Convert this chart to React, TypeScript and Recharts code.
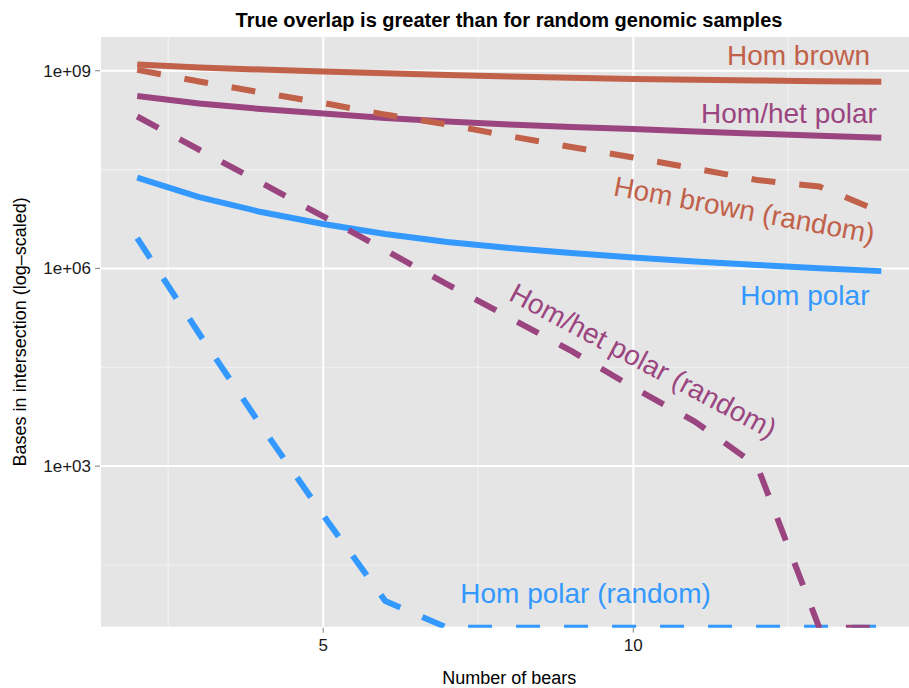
import { LineChart, Line, XAxis, YAxis, CartesianGrid, ReferenceDot } from 'recharts';

// number of bears in the subset
const bears = [2, 3, 4, 5, 6, 7, 8, 9, 10, 11, 12, 13, 14];

// bases in intersection; 0 = empty intersection (drawn at the panel floor, like ggplot's -Inf)
const homBrown = [1.24e9, 1.12e9, 1.04e9, 9.7e8, 9.15e8, 8.6e8, 8.17e8, 7.8e8, 7.5e8, 7.3e8, 7.1e8, 6.9e8, 6.8e8];
const homBrownRandom = [1.03e9, 6.86e8, 4.67e8, 3.24e8, 2.16e8, 1.53e8, 1.02e8, 6.95e7, 4.82e7, 3.28e7, 2.19e7, 1.75e7, 7.18e6];
const homHetPolar = [4.13e8, 3.18e8, 2.62e8, 2.24e8, 1.92e8, 1.69e8, 1.53e8, 1.4e8, 1.3e8, 1.2e8, 1.11e8, 1.035e8, 9.6e7];
const homHetPolarRandom = [2.02e8, 6.32e7, 1.99e7, 6.15e6, 1.89e6, 5.75e5, 1.8e5, 5.6e4, 1.56e4, 4.7e3, 1.0e3, 0, 0];
const homPolar = [2.39e7, 1.21e7, 7.17e6, 4.72e6, 3.33e6, 2.52e6, 2.04e6, 1.71e6, 1.46e6, 1.27e6, 1.13e6, 1.01e6, 9.1e5];
const homPolarRandom = [2.89e6, 1.02e5, 4.07e3, 180, 9, 0, 0, 0, 0, 0, 0, 0, 0];

const yTicks = [1e3, 1e6, 1e9];
const yMinor = [10 ** 1.5, 10 ** 4.5, 10 ** 7.5];
const xTicks = [5, 10];
const xMinor = [2.5, 7.5, 12.5];

const Y_MIN = 10 ** 0.548;
const Y_MAX = 10 ** 9.527;

const BROWN = '#C1614A';
const PURPLE = '#9B4580';
const BLUE = '#3399FF';
const FONT = '"Liberation Sans", Arial, Helvetica, sans-serif';

const atFloor = (v: number) => (v > 0 ? v : Y_MIN);

const rows = bears.map((b, i) => ({
  bears: b,
  homBrown: atFloor(homBrown[i]),
  homBrownRandom: atFloor(homBrownRandom[i]),
  homHetPolar: atFloor(homHetPolar[i]),
  homHetPolarRandom: atFloor(homHetPolarRandom[i]),
  homPolar: atFloor(homPolar[i]),
  homPolarRandom: atFloor(homPolarRandom[i]),
}));

// draw order: blue at the bottom, brown on top
const series = [
  { key: 'homPolar', color: BLUE, dashed: false },
  { key: 'homPolarRandom', color: BLUE, dashed: true },
  { key: 'homHetPolar', color: PURPLE, dashed: false },
  { key: 'homHetPolarRandom', color: PURPLE, dashed: true },
  { key: 'homBrown', color: BROWN, dashed: false },
  { key: 'homBrownRandom', color: BROWN, dashed: true },
];

// direct labels, placed in data space
const labels = [
  { text: 'Hom brown', x: 13.82, y: 10 ** 9.086, color: BROWN, anchor: 'end', angle: 0, baseline: 'auto' },
  { text: 'Hom/het polar', x: 13.93, y: 10 ** 8.214, color: PURPLE, anchor: 'end', angle: 0, baseline: 'auto' },
  { text: 'Hom polar', x: 13.81, y: 10 ** 5.445, color: BLUE, anchor: 'end', angle: 0, baseline: 'auto' },
  { text: 'Hom polar (random)', x: 9.23, y: 10 ** 0.93, color: BLUE, anchor: 'middle', angle: 0, baseline: 'auto' },
  { text: 'Hom brown (random)', x: 11.79, y: 10 ** 6.886, color: BROWN, anchor: 'middle', angle: 10.5, baseline: 'central' },
  { text: 'Hom/het polar (random)', x: 10.16, y: 10 ** 4.595, color: PURPLE, anchor: 'middle', angle: 28, baseline: 'central' },
];

const fmtExp = (v: number) => `1e+${String(Math.round(Math.log10(v))).padStart(2, '0')}`;

export default function App() {
  return (
    <div style={{ position: 'fixed', left: 0, top: 0, width: 909, height: 688, overflow: 'hidden', background: '#fff' }}>
      <svg width={909} height={36} style={{ position: 'absolute', left: 0, top: 0 }}>
        <text x={509} y={27} textAnchor="middle" fontFamily={FONT} fontWeight="bold" fontSize={20} fill="#000">
          True overlap is greater than for random genomic samples
        </text>
      </svg>
      <div style={{ position: 'absolute', left: 0, top: 0 }}>
        <LineChart width={930} height={688} data={rows} margin={{ top: 36, right: 11.5, bottom: 0, left: 0 }}>
          <CartesianGrid
            fill="#E5E5E5"
            stroke="#F2F2F2"
            strokeWidth={1.1}
            horizontalValues={yMinor}
            verticalValues={xMinor}
          />
          <CartesianGrid fill="none" stroke="#FFFFFF" strokeWidth={2} />
          <XAxis
            dataKey="bears"
            type="number"
            domain={[1.4, 14.6]}
            ticks={xTicks}
            allowDataOverflow
            axisLine={false}
            tickLine={{ stroke: '#7F7F7F', strokeWidth: 1 }}
            tickSize={5}
            tickMargin={6}
            height={60.3}
            tick={{ fill: '#1A1A1A', fontSize: 17, fontFamily: FONT }}
            label={{
              content: ({ viewBox }: any) => (
                <text
                  x={viewBox.x + viewBox.width / 2}
                  y={684}
                  textAnchor="middle"
                  fontFamily={FONT}
                  fontSize={18}
                  fill="#000"
                >
                  Number of bears
                </text>
              ),
            }}
          />
          <YAxis
            type="number"
            scale="log"
            domain={[Y_MIN, Y_MAX]}
            ticks={yTicks}
            allowDataOverflow
            tickFormatter={fmtExp}
            width={100}
            axisLine={false}
            tickLine={{ stroke: '#7F7F7F', strokeWidth: 1 }}
            tickSize={5}
            tickMargin={4}
            tick={{ fill: '#1A1A1A', fontSize: 17, fontFamily: FONT }}
            label={{
              content: ({ viewBox }: any) => {
                const cy = viewBox.y + viewBox.height / 2;
                return (
                  <text
                    x={26.5}
                    y={cy}
                    transform={`rotate(-90 26.5 ${cy})`}
                    textAnchor="middle"
                    fontFamily={FONT}
                    fontSize={18}
                    fill="#000"
                  >
                    Bases in intersection (log–scaled)
                  </text>
                );
              },
            }}
          />
          {series.map((s) => (
            <Line
              key={s.key}
              dataKey={s.key}
              type="linear"
              stroke={s.color}
              strokeWidth={6}
              strokeDasharray={s.dashed ? '24 24' : undefined}
              strokeLinecap="butt"
              strokeLinejoin="round"
              dot={false}
              activeDot={false}
              isAnimationActive={false}
            />
          ))}
          {labels.map((l) => (
            <ReferenceDot
              key={l.text}
              x={l.x}
              y={l.y}
              r={0}
              shape={(p: any) => (
                <text
                  x={p.cx}
                  y={p.cy}
                  textAnchor={l.anchor}
                  dominantBaseline={l.baseline}
                  transform={l.angle ? `rotate(${l.angle} ${p.cx} ${p.cy})` : undefined}
                  fontFamily={FONT}
                  fontSize={28}
                  fill={l.color}
                >
                  {l.text}
                </text>
              )}
            />
          ))}
        </LineChart>
      </div>
    </div>
  );
}
